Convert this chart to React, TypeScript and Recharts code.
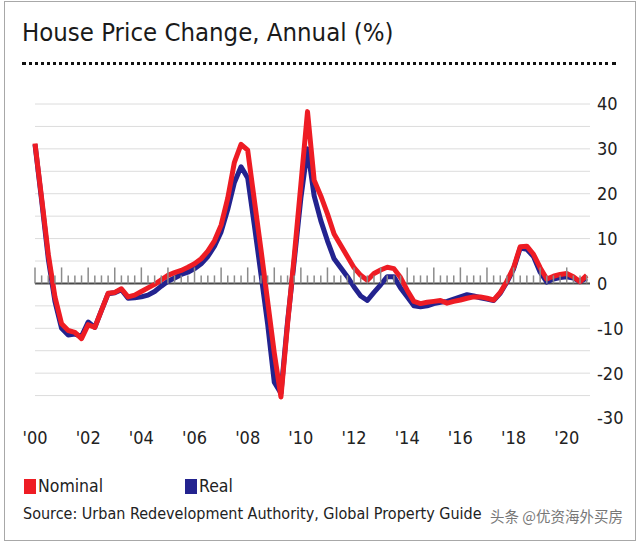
import React from 'react';
import {
  ComposedChart, Line, Scatter, XAxis, YAxis, ReferenceLine,
} from 'recharts';

// ── Data (quarterly, 2000Q1 .. 2020Q4) ─────────────────────

const NOMINAL = [
  31.2, 19, 6.5, -3,
  -9, -10.5, -10.9, -12.3,
  -9.2, -9.8, -6, -2.2,
  -2, -1.2, -3, -2.6,
  -1.8, -1, -0.2, 0.8,
  1.8, 2.4, 2.9, 3.6,
  4.4, 5.5, 7.2, 9.5,
  13, 19, 27, 31,
  29.7, 18.5, 7.5, -4,
  -15.5, -25.3, -9, 6,
  22, 38.3, 23, 19.5,
  15.5, 11, 8.5, 6,
  3.5, 1.8, 0.7, 2.2,
  3, 3.6, 3.3, 1.3,
  -1.5, -4, -4.5, -4.2,
  -4, -3.8, -4.4, -4,
  -3.7, -3.3, -3, -3,
  -3.3, -3.7, -2, 0.5,
  3.5, 8.2, 8.3, 6.5,
  3.5, 1, 1.6, 2,
  2.2, 1.5, 0.4, 1.8,
];

const REAL = [
  31, 18.5, 5.5, -4,
  -10, -11.5, -11.3, -11.8,
  -8.6, -9.8, -6, -2.3,
  -2.1, -1.4, -3.3, -3.2,
  -3, -2.6, -1.8, -0.6,
  0.5, 1.2, 2, 2.5,
  3.3, 4.4, 6, 8.3,
  11.5, 16.5, 22.5, 26,
  23.5, 13, 2, -9,
  -22, -24.5, -8.5, 5,
  19, 30, 19.5, 14,
  9.5, 5.5, 3.5, 1.5,
  -0.8, -2.8, -3.8, -2,
  -0.3, 1.5, 1.5, -1,
  -3, -5, -5.2, -5,
  -4.5, -4.2, -4, -3.5,
  -3, -2.5, -2.8, -3.2,
  -3.5, -3.8, -2.2, 0.3,
  3.2, 7.9, 7.6, 6,
  2.5, 0.3, 1, 1.3,
  1.5, 1.2, 0.4, 1.2,
];

const YEAR_TICKS = [0, 8, 16, 24, 32, 40, 48, 56, 64, 72, 80];
const YEAR_LABELS = ["'00", "'02", "'04", "'06", "'08", "'10", "'12", "'14", "'16", "'18", "'20"];
const Y_TICKS = [-30, -20, -10, 0, 10, 20, 30, 40];
const GRID_VALUES = [-25, -20, -15, -10, -5, 5, 10, 15, 20, 25, 30, 35, 40];

const data = NOMINAL.map((v, i) => ({ q: i, nominal: v, real: REAL[i] }));
const quarterTicks = NOMINAL.map((_, i) => ({ q: i, y: 0 }));

// ── Styles ─────────────────────────────────────────────────

const RED = '#ee1c24';
const BLUE = '#23238f';
const FONT = "'DejaVu Sans Condensed', 'Liberation Sans Narrow', 'DejaVu Sans', sans-serif";

const labelFor = (v: number) => YEAR_LABELS[YEAR_TICKS.indexOf(v)] ?? '';

const TickMark = (props: any) => {
  const { cx, cy, payload } = props;
  const h = payload.q % 4 === 0 ? 16 : 8;
  return <line x1={cx} x2={cx} y1={cy} y2={cy - h} stroke="#8c8c8c" strokeWidth={1.5} />;
};

export default function App() {
  return (
    <div style={{ position: 'absolute', left: 0, top: 0, width: 640, height: 546, background: '#fff', fontFamily: FONT, overflow: 'hidden' }}>
      <div style={{ position: 'absolute', left: 4, top: 1, width: 630, height: 538, border: '1px solid #a8a8a8' }} />
      <div style={{ position: 'absolute', left: 22, top: 17, fontSize: 25.5, color: '#1a1a1a', whiteSpace: 'nowrap' }}>
        House Price Change, Annual (%)
      </div>
      <div style={{ position: 'absolute', left: 22, top: 62, width: 594, borderBottom: '3px dotted #111' }} />

      <div style={{ position: 'absolute', left: 0, top: 0 }}>
        <ComposedChart width={640} height={460} data={data} margin={{ top: 104, right: 5, bottom: 12, left: 35 }}>
          {GRID_VALUES.map((g) => (
            <ReferenceLine key={g} y={g} stroke="#dcdcdc" strokeWidth={1} ifOverflow="extendDomain" />
          ))}
          <ReferenceLine y={0} stroke="#4a4a4a" strokeWidth={2} />
          <XAxis
            dataKey="q"
            type="number"
            domain={[0, 83.5]}
            ticks={YEAR_TICKS}
            tickFormatter={labelFor}
            axisLine={false}
            tickLine={false}
            tickSize={0}
            tickMargin={13}
            height={30}
            interval={0}
            tick={{ fontSize: 18, fill: '#222', fontFamily: FONT }}
          />
          <YAxis
            orientation="right"
            domain={[-30, 40]}
            ticks={Y_TICKS}
            axisLine={false}
            tickLine={false}
            tickSize={0}
            tickMargin={7}
            width={45}
            interval={0}
            tick={{ fontSize: 18, fill: '#222', fontFamily: FONT }}
          />
          <Scatter data={quarterTicks} dataKey="y" shape={TickMark} isAnimationActive={false} />
          <Line type="linear" dataKey="real" stroke={BLUE} strokeWidth={5} dot={false} strokeLinejoin="round" isAnimationActive={false} />
          <Line type="linear" dataKey="nominal" stroke={RED} strokeWidth={5} dot={false} strokeLinejoin="round" isAnimationActive={false} />
        </ComposedChart>
      </div>

      <div style={{ position: 'absolute', left: 24, top: 476, display: 'flex', alignItems: 'center', fontSize: 17.5, color: '#222' }}>
        <span style={{ display: 'inline-block', width: 12, height: 15, background: RED, marginRight: 2 }} />
        <span>Nominal</span>
      </div>
      <div style={{ position: 'absolute', left: 185, top: 476, display: 'flex', alignItems: 'center', fontSize: 17.5, color: '#222' }}>
        <span style={{ display: 'inline-block', width: 12, height: 15, background: BLUE, marginRight: 2 }} />
        <span>Real</span>
      </div>
      <div style={{ position: 'absolute', left: 23, top: 504, fontSize: 16, color: '#222', whiteSpace: 'nowrap' }}>
        Source: Urban Redevelopment Authority, Global Property Guide
      </div>
      <div style={{
        position: 'absolute', left: 490, top: 505, fontSize: 14.5, color: '#777', whiteSpace: 'nowrap',
        fontFamily: "'Noto Sans CJK SC', sans-serif",
      }}>
        头条 @优资海外买房
      </div>
    </div>
  );
}
